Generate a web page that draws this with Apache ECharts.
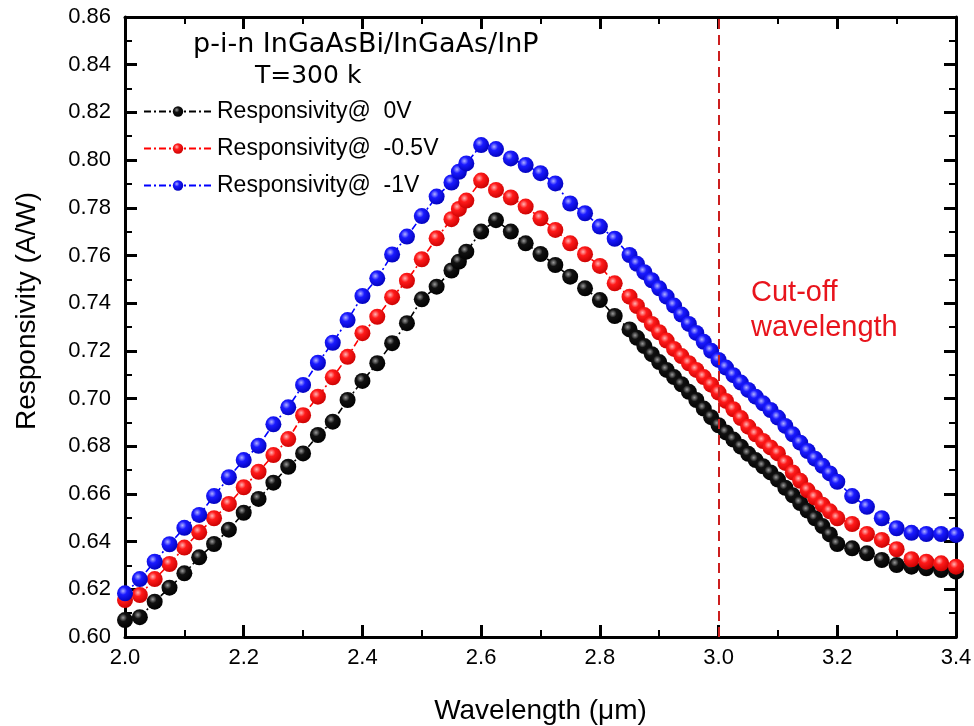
<!DOCTYPE html>
<html>
<head>
<meta charset="utf-8">
<script src="https://cdn.jsdelivr.net/npm/echarts@6/dist/echarts.min.js"></script>
<style>
html,body{margin:0;padding:0;background:#fff;}
#chart{width:974px;height:726px;}
</style>
</head>
<body>
<div id="chart"></div>
<script>
// Wavelength (µm) sample positions
var wavelength = [2.000,2.025,2.050,2.075,2.100,2.125,2.150,2.175,2.200,2.225,2.250,2.275,2.300,2.325,2.350,2.375,2.400,2.425,2.450,2.475,2.500,2.525,2.550,2.5625,2.575,
  2.600,2.625,2.650,2.675,2.700,2.725,2.750,2.775,2.800,2.825,2.850,
  2.8625,2.875,2.8875,2.900,2.9125,2.925,2.9375,2.950,2.9625,2.975,2.9875,3.000,3.0125,3.025,3.0375,3.050,3.0625,3.075,3.0875,3.100,3.1125,3.125,3.1375,3.150,3.1625,3.175,3.1875,3.200,
  3.225,3.250,3.275,3.300,3.325,3.350,3.375,3.400];

var resp0V = [0.6071,0.6083,0.6148,0.6207,0.6267,0.6334,0.6390,0.6450,0.6521,0.6579,0.6647,0.6714,0.6770,0.6847,0.6903,0.6994,0.7074,0.7148,0.7232,0.7316,0.7416,0.7469,0.7537,0.7574,0.7616,
  0.7700,0.7748,0.7700,0.7651,0.7606,0.7560,0.7511,0.7462,0.7413,0.7346,0.7290,
  0.7255,0.7220,0.7186,0.7153,0.7120,0.7090,0.7060,0.7028,0.6994,0.6958,0.6922,0.6888,0.6858,0.6828,0.6798,0.6768,0.6742,0.6716,0.6690,0.6660,0.6626,0.6594,0.6562,0.6530,0.6498,0.6465,0.6430,0.6390,
  0.6372,0.6351,0.6323,0.6302,0.6295,0.6288,0.6281,0.6274];

var respM05V = [0.6155,0.6176,0.6243,0.6306,0.6375,0.6439,0.6498,0.6558,0.6628,0.6693,0.6763,0.6830,0.6930,0.7008,0.7089,0.7175,0.7274,0.7343,0.7425,0.7494,0.7584,0.7672,0.7752,0.7795,0.7830,
  0.7914,0.7875,0.7843,0.7805,0.7756,0.7707,0.7651,0.7605,0.7556,0.7483,0.7427,
  0.7388,0.7350,0.7313,0.7278,0.7243,0.7208,0.7178,0.7148,0.7120,0.7090,0.7058,0.7025,0.6990,0.6955,0.6918,0.6882,0.6850,0.6822,0.6795,0.6770,0.6730,0.6690,0.6655,0.6615,0.6585,0.6555,0.6527,0.6498,
  0.6474,0.6432,0.6407,0.6368,0.6326,0.6316,0.6309,0.6295];

var respM1V = [0.6183,0.6243,0.6316,0.6389,0.6458,0.6512,0.6591,0.6670,0.6742,0.6802,0.6892,0.6963,0.7057,0.7150,0.7234,0.7329,0.7430,0.7504,0.7604,0.7679,0.7765,0.7847,0.7906,0.7951,0.7986,
  0.8063,0.8046,0.8007,0.7979,0.7945,0.7902,0.7818,0.7777,0.7721,0.7670,0.7602,
  0.7565,0.7530,0.7496,0.7462,0.7427,0.7390,0.7352,0.7313,0.7275,0.7238,0.7200,0.7162,0.7130,0.7098,0.7067,0.7036,0.7008,0.6980,0.6952,0.6920,0.6885,0.6850,0.6815,0.6780,0.6748,0.6718,0.6686,0.6651,
  0.6591,0.6546,0.6498,0.6456,0.6437,0.6432,0.6432,0.6428];

var seriesNames = ['Responsivity@  0V', 'Responsivity@  -0.5V', 'Responsivity@  -1V'];
var cutoffWavelength = [3.0];
var xRange = [2.0, 3.4], xStep = 0.2;
var yRange = [0.60, 0.86], yStep = 0.02;
var annotTitle = ['p-i-n InGaAsBi/InGaAs/InP', 'T=300 k'];
var annotCutoff = 'Cut-off\nwavelength';

function pairs(ys){ return wavelength.map(function(x,i){ return [x, ys[i]]; }); }
function sphere(hi, mid, edge){
  return {type:'radial', x:0.38, y:0.35, r:0.7,
    colorStops:[{offset:0,color:hi},{offset:0.35,color:mid},{offset:1,color:edge}]};
}
var FONT = "'Liberation Sans', Arial, sans-serif";
var styles = [
  {line:'#000000', fill: sphere('#9a9a9a','#111111','#000000')},
  {line:'#ff0000', fill: sphere('#ffb3b3','#ff1a1a','#c80000')},
  {line:'#0000ff', fill: sphere('#b0b0ff','#1a1aff','#0000b8')}
];
var datasets = [resp0V, respM05V, respM1V];

function mkSeries(i){
  var s = {
    name: seriesNames[i], type:'line', data: pairs(datasets[i]),
    symbol:'circle', symbolSize:16, showAllSymbol:true,
    lineStyle:{color:styles[i].line, width:1.6, type:[7,3,2,3]},
    itemStyle:{color:styles[i].fill, borderWidth:0},
    z: 2 + i
  };
  if (i === 0) {
    s.markLine = {
      silent:true, symbol:['none','none'], animation:false,
      label:{show:false},
      lineStyle:{color:'#cc1f1f', width:2, type:[10,6]},
      data: cutoffWavelength.map(function(v){ return {xAxis:v}; })
    };
  }
  return s;
}

function axisCommon(){
  return {
    axisLine:{show:true, onZero:false, lineStyle:{color:'#000', width:3}},
    axisTick:{show:true, inside:true, length:12, lineStyle:{color:'#000', width:3}},
    minorTick:{show:true, splitNumber:2, length:7, lineStyle:{color:'#000', width:2}},
    splitLine:{show:false}, minorSplitLine:{show:false}
  };
}
function xAx(pos, labels){
  var a = axisCommon();
  a.type='value'; a.position=pos; a.min=xRange[0]; a.max=xRange[1]; a.interval=xStep;
  a.axisLabel = labels ? {show:true, fontSize:22, color:'#000', fontFamily:FONT, margin:10,
      formatter:function(v){return v.toFixed(1);}} : {show:false};
  if (labels) { a.name='Wavelength (μm)'; a.nameLocation='middle'; a.nameGap=60;
    a.nameTextStyle={fontSize:28, color:'#000', fontFamily:FONT}; }
  return a;
}
function yAx(pos, labels){
  var a = axisCommon();
  a.type='value'; a.position=pos; a.min=yRange[0]; a.max=yRange[1]; a.interval=yStep;
  a.axisLabel = labels ? {show:true, fontSize:22, color:'#000', fontFamily:FONT, margin:14,
      formatter:function(v){return v.toFixed(2);}} : {show:false};
  if (labels) { a.name='Responsivity (A/W)'; a.nameLocation='middle'; a.nameGap=84;
    a.nameTextStyle={fontSize:28, color:'#000', fontFamily:FONT, padding:[0,0,0,32]}; }
  return a;
}

var chart = echarts.init(document.getElementById('chart'), null, {renderer:'canvas'});
chart.setOption({
  animation:false,
  backgroundColor:'#fff',
  grid:{left:125, right:18, top:17, bottom:89, containLabel:false, outerBoundsMode:'none'},
  xAxis:[xAx('bottom', true), xAx('top', false)],
  yAxis:[yAx('left', true), yAx('right', false)],
  legend:{
    orient:'vertical', left:138, top:95, itemWidth:68, itemHeight:13, itemGap:14,
    textStyle:{fontSize:23, color:'#000', fontFamily:FONT},
    data: seriesNames
  },
  graphic:[
    {type:'text', left:193, top:31, style:{text:annotTitle[0], fill:'#000', font:"27px 'DejaVu Sans', 'Liberation Sans', Arial"}},
    {type:'text', left:255, top:64, style:{text:annotTitle[1], fill:'#000', font:"25px 'DejaVu Sans', 'Liberation Sans', Arial"}},
    {type:'text', left:751, top:275, style:{text:annotCutoff, fill:'#e8141c', font:"29px 'Liberation Sans', Arial", lineHeight:35}}
  ],
  series:[mkSeries(0), mkSeries(1), mkSeries(2)]
});
</script>
</body>
</html>
